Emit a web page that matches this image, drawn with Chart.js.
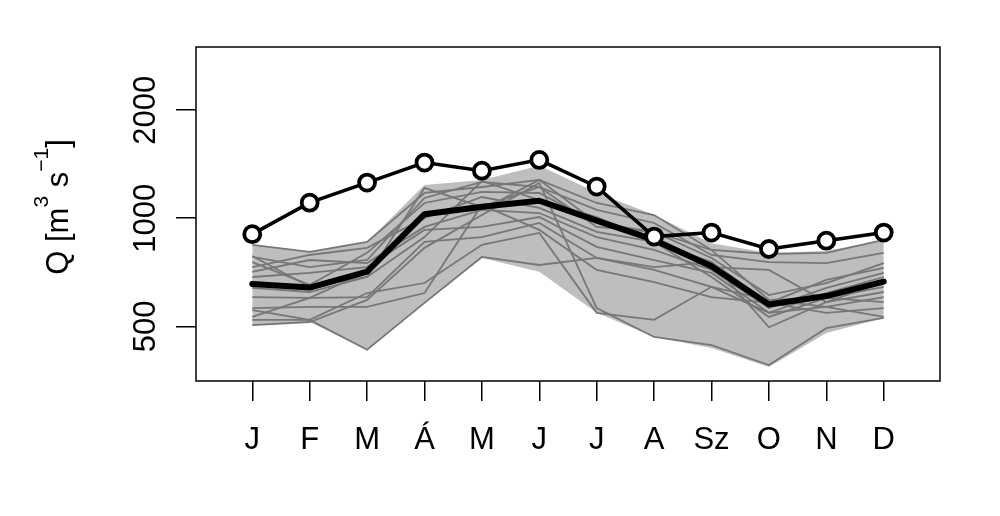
<!DOCTYPE html>
<html>
<head>
<meta charset="utf-8">
<script src="https://cdn.jsdelivr.net/npm/chart.js@4.4.1/dist/chart.umd.min.js"></script>
<style>
  html, body { margin: 0; padding: 0; background: #fff; }
  #wrap { width: 1000px; height: 516px; }
</style>
</head>
<body>
<div id="wrap"><canvas id="grafico" width="1000" height="516"></canvas></div>
<script>
// Meses (etiquetas en húngaro) y su posición en el eje x
const meses = ['J', 'F', 'M', 'Á', 'M', 'J', 'J', 'A', 'Sz', 'O', 'N', 'D'];
const posMeses = [1, 2, 3, 4, 5, 6, 7, 8, 9, 10, 11, 12];
const marcasY = [500, 1000, 2000];

// Banda gris (mínimo / máximo)
const bandaInferior = [504, 514, 430, 581, 775, 710, 545, 467, 435, 385, 479, 527];
const bandaSuperior = [843, 806, 859, 1238, 1279, 1400, 1180, 1021, 852, 800, 810, 870];

// Series individuales (líneas grises finas)
const serie01 = [555, 521, 430, 581, 780, 741, 775, 718, 644, 545, 566, 603];
const serie02 = [504, 514, 592, 827, 1021, 1254, 562, 467, 443, 390, 494, 528];
const serie03 = [521, 521, 619, 660, 843, 910, 545, 521, 644, 592, 600, 584];
const serie04 = [843, 806, 859, 1176, 1222, 1279, 1103, 1021, 816, 795, 801, 870];
const serie05 = [780, 731, 765, 1139, 1263, 1222, 1055, 970, 790, 755, 750, 801];
const serie06 = [755, 652, 801, 1103, 1184, 1176, 970, 916, 775, 611, 660, 750];
const serie07 = [731, 790, 827, 1002, 1146, 1069, 916, 859, 755, 581, 673, 727];
const serie08 = [709, 765, 750, 946, 1055, 1034, 886, 816, 718, 562, 640, 704];
const serie09 = [686, 704, 731, 928, 946, 1008, 832, 765, 704, 545, 619, 686];
const serie10 = [640, 623, 686, 886, 1270, 1124, 1008, 859, 686, 531, 600, 644];
const serie11 = [603, 600, 603, 859, 886, 970, 775, 731, 755, 497, 584, 623];
const serie12 = [562, 566, 566, 619, 1089, 928, 718, 664, 603, 581, 545, 562];
const serie13 = [531, 600, 709, 1034, 1055, 1279, 970, 886, 731, 718, 584, 664];
const serie14 = [785, 644, 686, 1215, 1075, 1222, 946, 916, 816, 592, 566, 531];
const series = [serie01, serie02, serie03, serie04, serie05, serie06, serie07,
                serie08, serie09, serie10, serie11, serie12, serie13, serie14];

// Media (línea negra gruesa) y serie con círculos
const media = [656, 641, 710, 1026, 1077, 1119, 985, 870, 735, 575, 607, 666];
const circulos = [903, 1105, 1257, 1429, 1357, 1454, 1225, 889, 912, 821, 866, 912];

const fuente = '"Liberation Sans", Arial, Helvetica, sans-serif';
const gris = '#777777';

function puntos(valores) {
    return valores.map((v, i) => ({ x: posMeses[i], y: v }));
}

// Marco, etiquetas del eje y (giradas como en R) y título con superíndices
const marcoYTextos = {
    id: 'marcoYTextos',
    afterDraw(chart) {
        const ctx = chart.ctx;
        const area = chart.chartArea;
        const escalaY = chart.scales.y;
        ctx.save();
        ctx.strokeStyle = '#000';
        ctx.lineWidth = 1.5;
        ctx.strokeRect(area.left, area.top, area.right - area.left, area.bottom - area.top);

        ctx.fillStyle = '#000';
        ctx.font = '31px ' + fuente;
        ctx.textAlign = 'center';
        ctx.textBaseline = 'alphabetic';
        marcasY.forEach(v => {
            const py = escalaY.getPixelForValue(v);
            ctx.save();
            ctx.translate(area.left - 41, py);
            ctx.rotate(-Math.PI / 2);
            ctx.fillText(String(v), 0, 0);
            ctx.restore();
        });

        const partes = [
            { t: 'Q [m', sup: false },
            { t: '3', sup: true },
            { t: ' s', sup: false },
            { t: '\u22121', sup: true },
            { t: ']', sup: false }
        ];
        const fNormal = '31px ' + fuente;
        const fSup = '21px ' + fuente;
        let total = 0;
        partes.forEach(p => {
            ctx.font = p.sup ? fSup : fNormal;
            p.w = ctx.measureText(p.t).width;
            total += p.w;
        });
        ctx.save();
        ctx.translate(area.left - 128, (area.top + area.bottom) / 2 - 7);
        ctx.rotate(-Math.PI / 2);
        ctx.textAlign = 'left';
        let x = -total / 2;
        partes.forEach(p => {
            ctx.font = p.sup ? fSup : fNormal;
            ctx.fillText(p.t, x, p.sup ? -20 : 0);
            x += p.w;
        });
        ctx.restore();
        ctx.restore();
    }
};

const datasets = [
    { data: puntos(bandaInferior), borderWidth: 0, borderColor: 'transparent', pointRadius: 0, fill: false, order: 10 },
    { data: puntos(bandaSuperior), borderWidth: 0, borderColor: 'transparent', pointRadius: 0, fill: '-1', backgroundColor: '#bebebe', order: 9 }
];
series.forEach(s => {
    datasets.push({ data: puntos(s), borderColor: gris, borderWidth: 1.8, pointRadius: 0, fill: false, order: 5 });
});
datasets.push({ data: puntos(media), borderColor: '#000', borderWidth: 6, pointRadius: 0, fill: false, order: 2,
                borderJoinStyle: 'round', borderCapStyle: 'round' });
datasets.push({ data: puntos(circulos), borderColor: '#000', borderWidth: 3.5, fill: false, order: 1,
                pointRadius: 8, pointBorderWidth: 3.8, pointBackgroundColor: '#fff', pointBorderColor: '#000' });

const ejeGrid = { drawOnChartArea: false, drawTicks: true, tickLength: 20, color: '#000', tickColor: '#000', lineWidth: 1.5, tickWidth: 1.5 };

new Chart(document.getElementById('grafico').getContext('2d'), {
    type: 'line',
    data: { datasets: datasets },
    options: {
        responsive: false,
        animation: false,
        devicePixelRatio: 1,
        layout: { padding: { top: 47, right: 60, left: 0, bottom: 0 } },
        elements: { line: { tension: 0 } },
        plugins: { legend: { display: false }, tooltip: { enabled: false } },
        scales: {
            x: {
                type: 'linear',
                min: 0.02,
                max: 12.98,
                bounds: 'data',
                afterBuildTicks: s => { s.ticks = posMeses.map(v => ({ value: v })); },
                afterFit: s => { s.height = 135; },
                border: { display: false },
                grid: ejeGrid,
                ticks: {
                    autoSkip: false, maxRotation: 0, minRotation: 0, padding: 21, color: '#000',
                    font: { family: fuente, size: 31 },
                    callback: (v, i) => meses[i]
                }
            },
            y: {
                type: 'logarithmic',
                min: 352,
                max: 3000,
                bounds: 'data',
                afterBuildTicks: s => { s.ticks = marcasY.map(v => ({ value: v })); },
                afterFit: s => { s.width = 196; },
                border: { display: false },
                grid: ejeGrid,
                ticks: { display: false }
            }
        }
    },
    plugins: [marcoYTextos]
});
</script>
</body>
</html>
